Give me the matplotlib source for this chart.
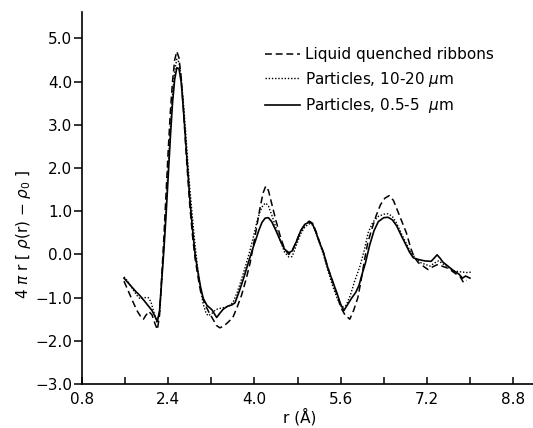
"""
Reduced radial distribution 4*pi*r*[rho(r) - rho0] for ribbons and two particle sizes.
"""

import numpy as np
import matplotlib.pyplot as plt
from matplotlib.ticker import MultipleLocator, FixedLocator, FuncFormatter

# Liquid quenched ribbons (dashed)
r_ribbon = [1.58, 1.66, 1.74, 1.82, 1.90, 1.94, 1.98, 2.04, 2.10, 2.16, 2.20, 2.24,
            2.28, 2.32, 2.36, 2.40, 2.44, 2.48, 2.52, 2.56, 2.60, 2.64, 2.68, 2.72,
            2.76, 2.80, 2.85, 2.90, 2.95, 3.00, 3.08, 3.16, 3.24, 3.30, 3.36, 3.44,
            3.52, 3.60, 3.68, 3.76, 3.84, 3.92, 3.98, 4.04, 4.10, 4.16, 4.21, 4.26,
            4.32, 4.40, 4.48, 4.56, 4.64, 4.70, 4.78, 4.86, 4.94, 5.02, 5.08, 5.14,
            5.20, 5.28, 5.36, 5.45, 5.53, 5.60, 5.68, 5.77, 5.84, 5.92, 5.98, 6.04,
            6.10, 6.17, 6.26, 6.34, 6.42, 6.50, 6.58, 6.66, 6.74, 6.82, 6.90, 6.96,
            7.04, 7.12, 7.22, 7.32, 7.41, 7.50, 7.57, 7.66, 7.75, 7.82, 7.88, 7.94]
g_ribbon = [-0.62, -0.85, -1.08, -1.30, -1.46, -1.50, -1.42, -1.32, -1.40, -1.62, -1.74, -1.40,
            -0.50, 0.40, 1.40, 2.40, 3.30, 4.00, 4.50, 4.70, 4.55, 4.10, 3.40, 2.60,
            1.85, 1.15, 0.45, -0.10, -0.50, -0.85, -1.15, -1.35, -1.52, -1.65, -1.70, -1.65,
            -1.56, -1.46, -1.22, -0.95, -0.60, -0.20, 0.20, 0.62, 1.05, 1.42, 1.58, 1.48,
            1.18, 0.78, 0.42, 0.12, 0.00, 0.08, 0.30, 0.55, 0.70, 0.77, 0.72, 0.54,
            0.32, 0.05, -0.30, -0.62, -0.92, -1.22, -1.40, -1.50, -1.30, -1.00, -0.60, -0.15,
            0.25, 0.55, 0.90, 1.15, 1.30, 1.36, 1.25, 1.00, 0.75, 0.50, 0.15, -0.05,
            -0.19, -0.26, -0.35, -0.28, -0.23, -0.28, -0.31, -0.38, -0.46, -0.52, -0.65, -0.60]

# Particles, 10-20 um (dotted)
r_coarse = [1.58, 1.66, 1.74, 1.82, 1.88, 1.95, 2.03, 2.08, 2.13, 2.19, 2.24, 2.28,
            2.32, 2.36, 2.40, 2.44, 2.48, 2.52, 2.56, 2.60, 2.64, 2.68, 2.72, 2.76,
            2.80, 2.85, 2.90, 2.95, 3.00, 3.05, 3.10, 3.14, 3.20, 3.28, 3.36, 3.44,
            3.52, 3.60, 3.68, 3.76, 3.84, 3.92, 3.98, 4.04, 4.10, 4.16, 4.21, 4.26,
            4.32, 4.40, 4.48, 4.56, 4.64, 4.70, 4.78, 4.86, 4.94, 5.02, 5.08, 5.14,
            5.20, 5.28, 5.36, 5.45, 5.53, 5.62, 5.70, 5.78, 5.86, 5.96, 6.04, 6.11,
            6.20, 6.30, 6.40, 6.48, 6.56, 6.64, 6.72, 6.80, 6.90, 7.01, 7.10, 7.26,
            7.34, 7.42, 7.50, 7.60, 7.69, 7.80, 7.94, 8.02]
g_coarse = [-0.52, -0.64, -0.80, -0.95, -1.03, -1.00, -1.00, -1.10, -1.32, -1.58, -1.35, -0.60,
            0.20, 1.10, 2.05, 2.95, 3.70, 4.25, 4.52, 4.45, 4.12, 3.55, 2.90, 2.20,
            1.55, 0.85, 0.20, -0.35, -0.80, -1.15, -1.35, -1.42, -1.38, -1.28, -1.25, -1.23,
            -1.20, -1.12, -0.88, -0.58, -0.25, 0.10, 0.40, 0.72, 0.98, 1.14, 1.19, 1.12,
            0.92, 0.62, 0.32, 0.05, -0.06, -0.05, 0.22, 0.48, 0.64, 0.71, 0.68, 0.52,
            0.30, 0.00, -0.36, -0.72, -1.00, -1.23, -1.18, -0.95, -0.62, -0.27, 0.10, 0.50,
            0.75, 0.88, 0.93, 0.94, 0.88, 0.72, 0.50, 0.30, 0.05, -0.12, -0.20, -0.27,
            -0.20, -0.15, -0.22, -0.30, -0.38, -0.40, -0.42, -0.41]

# Particles, 0.5-5 um (solid)
r_fine = [1.58, 1.70, 1.80, 1.88, 1.96, 2.03, 2.10, 2.16, 2.20, 2.24, 2.28, 2.32,
          2.36, 2.40, 2.44, 2.48, 2.52, 2.56, 2.60, 2.64, 2.68, 2.72, 2.76, 2.80,
          2.85, 2.90, 2.95, 3.00, 3.05, 3.12, 3.21, 3.30, 3.36, 3.42, 3.50, 3.58,
          3.64, 3.72, 3.80, 3.88, 3.96, 4.02, 4.08, 4.14, 4.20, 4.26, 4.32, 4.40,
          4.48, 4.56, 4.64, 4.70, 4.78, 4.86, 4.94, 5.02, 5.08, 5.14, 5.20, 5.28,
          5.36, 5.45, 5.53, 5.60, 5.66, 5.72, 5.80, 5.88, 5.94, 6.00, 6.06, 6.14,
          6.22, 6.30, 6.40, 6.48, 6.56, 6.64, 6.72, 6.80, 6.88, 6.95, 7.05, 7.16,
          7.28, 7.34, 7.39, 7.44, 7.50, 7.60, 7.70, 7.80, 7.86, 7.92, 8.00]
g_fine = [-0.55, -0.72, -0.86, -0.96, -1.08, -1.19, -1.30, -1.45, -1.55, -1.30, -0.60, 0.10,
          0.90, 1.80, 2.70, 3.50, 4.05, 4.32, 4.30, 4.00, 3.40, 2.70, 2.00, 1.30,
          0.60, 0.00, -0.40, -0.75, -1.02, -1.18, -1.28, -1.46, -1.36, -1.27, -1.20, -1.17,
          -1.12, -0.85, -0.55, -0.22, 0.10, 0.32, 0.55, 0.74, 0.84, 0.85, 0.76, 0.55,
          0.32, 0.12, 0.04, 0.08, 0.30, 0.55, 0.70, 0.75, 0.70, 0.52, 0.30, 0.05,
          -0.30, -0.62, -0.89, -1.15, -1.30, -1.18, -1.02, -0.88, -0.72, -0.45, -0.20, 0.22,
          0.55, 0.76, 0.85, 0.86, 0.80, 0.66, 0.45, 0.25, 0.05, -0.08, -0.12, -0.15,
          -0.16, -0.08, -0.01, -0.08, -0.18, -0.28, -0.38, -0.46, -0.55, -0.50, -0.55]

labels = ['Liquid quenched ribbons',
          'Particles, 10-20 $\\mu$m',
          'Particles, 0.5-5  $\\mu$m']

x_major = [0.8, 2.4, 4.0, 5.6, 7.2, 8.8]
y_major = [-3, -2, -1, 0, 1, 2, 3, 4, 5]


def main():
    plt.rcParams['font.family'] = 'DejaVu Sans'
    plt.rcParams['axes.unicode_minus'] = True

    fig = plt.figure(figsize=(5.33, 4.28), dpi=100)
    ax = fig.add_axes([0.1538, 0.1028, 0.8462, 0.868])

    ax.plot(r_ribbon, g_ribbon, color='black', linestyle=(0, (4.5, 2.5)), linewidth=1.1,
            label=labels[0])
    ax.plot(r_coarse, g_coarse, color='black', linestyle=(0, (1, 1.3)), linewidth=1.0,
            label=labels[1])
    ax.plot(r_fine, g_fine, color='black', linestyle='-', linewidth=1.2,
            label=labels[2])

    ax.set_xlim(0.8, 9.17)
    ax.set_ylim(-3.0, 5.6)

    for side in ('top', 'right'):
        ax.spines[side].set_visible(False)
    for side in ('left', 'bottom'):
        ax.spines[side].set_linewidth(1.2)

    ax.xaxis.set_major_locator(FixedLocator(x_major))
    ax.xaxis.set_minor_locator(MultipleLocator(0.8))
    ax.xaxis.set_major_formatter(FuncFormatter(lambda v, p: f'{v:.1f}'))
    ax.yaxis.set_major_locator(FixedLocator(y_major))
    ax.yaxis.set_major_formatter(
        FuncFormatter(lambda v, p: f'{v:.1f}'.replace('-', '\u2212')))

    ax.tick_params(axis='x', which='both', direction='in', length=5, width=1.1,
                   labelsize=11, pad=6)
    ax.tick_params(axis='y', which='major', direction='out', length=6, width=1.1,
                   labelsize=11, pad=1)

    fig.text(0.045, 0.453, r'4 $\pi$ r [ $\rho$(r) $-$ $\rho_0$ ]',
             rotation=90, ha='center', va='center', fontsize=11)
    fig.text(0.563, 0.026, 'r (\u00c5)', ha='center', va='center', fontsize=11)

    ax.legend(loc='upper left', bbox_to_anchor=(265 / 533, (428 - 47) / 428),
              bbox_transform=fig.transFigure, frameon=False, fontsize=11,
              handlelength=2.3, handletextpad=0.3, labelspacing=0.5,
              borderpad=0, borderaxespad=0)

    fig.savefig('out.png', dpi=100)


if __name__ == "__main__":
    main()
